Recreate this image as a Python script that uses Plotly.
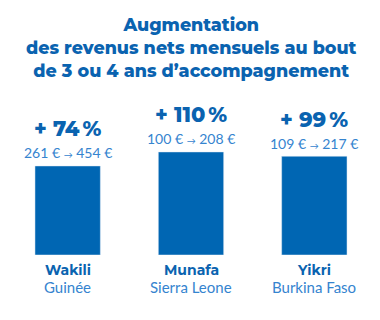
import plotly.graph_objects as go

programmes = ["Wakili", "Munafa", "Yikri"]
pays = ["Guinée", "Sierra Leone", "Burkina Faso"]
hausse_pct = [74, 110, 99]
revenu_avant = [261, 100, 109]
revenu_apres = [454, 208, 217]

BASE = -155
DARK = "#0a63b0"
BAR = "#0066b3"
LIGHT = "#3584cf"

fig = go.Figure(go.Bar(
    x=programmes, y=[p - BASE for p in hausse_pct], base=BASE,
    marker_color=BAR, width=0.53, hoverinfo="skip",
))

ann = []
for prog, pay, p, a, b in zip(programmes, pays, hausse_pct, revenu_avant, revenu_apres):
    ann.append(dict(x=prog, y=p, yref="y", text=f"+ {p}\u2009%", showarrow=False,
                    yshift=37, font=dict(family="Montserrat, Open Sans", size=21, color=DARK, weight=800)))
    ann.append(dict(x=prog, y=p, yref="y", text=f"{a} € <span style='font-size:9px'>→</span> {b} €", showarrow=False,
                    yshift=13, font=dict(family="Lato", size=14, color=LIGHT, weight=400)))
    ann.append(dict(x=prog, y=BASE, yref="y", text=f"<b>{prog}</b>", showarrow=False,
                    yshift=-15, font=dict(family="Montserrat, Open Sans", size=14, color=DARK, weight=800)))
    ann.append(dict(x=prog, y=BASE, yref="y", text=pay, showarrow=False,
                    yshift=-32, font=dict(family="Lato", size=15, color=LIGHT, weight=400)))

ann.append(dict(x=0.5, xref="paper", y=1, yref="paper", yshift=33, yanchor="middle",
                text="Augmentation<br>des revenus nets mensuels au bout<br>de 3 ou 4 ans d’accompagnement",
                showarrow=False, font=dict(family="Montserrat, Open Sans", size=17.5, color=DARK, weight=800)))

fig.update_layout(
    width=380, height=320, margin=dict(l=6, r=4, t=80, b=65),
    paper_bgcolor="white", plot_bgcolor="white", showlegend=False,
    xaxis=dict(visible=False, range=[-0.5, 2.5]),
    yaxis=dict(visible=False, range=[BASE, 295]),
    annotations=ann,
)
fig.write_html("out.html")
